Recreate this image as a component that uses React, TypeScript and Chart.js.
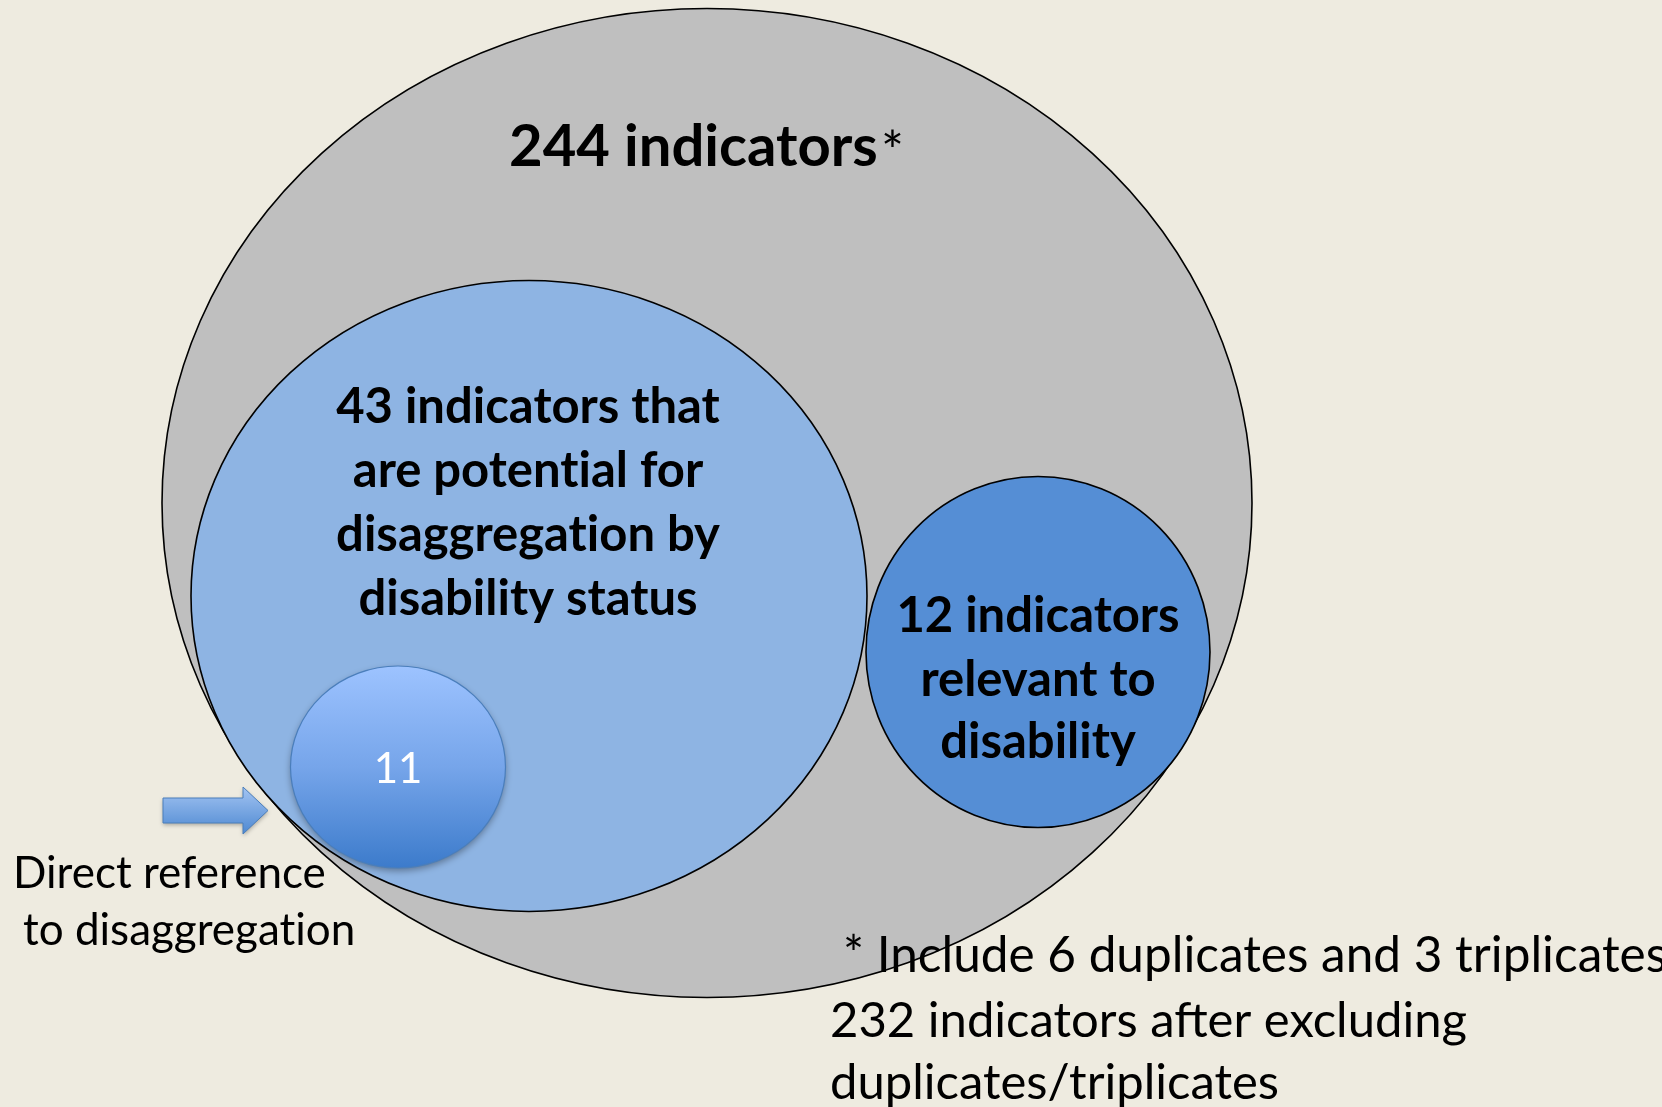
import { useEffect, useRef } from 'react';
import { Chart, registerables } from 'chart.js';

Chart.register(...registerables);

const W = 1662;
const H = 1107;

// Sets of the Euler diagram (outer to inner), geometry in diagram units
const setNames = ['All indicators', 'Potential for disaggregation', 'Relevant to disability', 'Direct reference'];
const setCounts = [244, 43, 12, 11];
const centerX = [707, 529, 1038, 398];
const centerY = [503, 596, 652, 767];
const radiusX = [545, 338, 172, 107.5];
const radiusY = [494.5, 315.5, 175.5, 101];

// Text content
const outerLabel = `${setCounts[0]} indicators`;
const mediumLines = [`${setCounts[1]} indicators that`, 'are potential for', 'disaggregation by', 'disability status'];
const rightLines = [`${setCounts[2]} indicators`, 'relevant to', 'disability'];
const smallLabel = `${setCounts[3]}`;
const arrowLines = ['Direct reference', 'to disaggregation'];
const noteLines = ['* Include 6 duplicates and 3 triplicates', '232 indicators after excluding', 'duplicates/triplicates'];

const FONT = 'Lato, "Open Sans", "DejaVu Sans", sans-serif';

// avoid typographic ligatures (e.g. "ti") that the reference does not use
const noLig = (t: string) => t.replace(/t(?=[ifl])/g, 't\u200C').replace(/f(?=[ifl])/g, 'f\u200C');

const vennPlugin = {
  id: 'venn',
  beforeDraw(chart: any) {
    const { ctx } = chart;
    ctx.save();
    ctx.fillStyle = '#EEEBE0';
    ctx.fillRect(0, 0, chart.width, chart.height);
    ctx.restore();
  },
  beforeDatasetsDraw(chart: any) {
    const { ctx } = chart;
    const xs = chart.scales.x;
    const ys = chart.scales.y;
    const px = (v: number) => xs.getPixelForValue(v);
    const py = (v: number) => ys.getPixelForValue(v);
    const ell = (i: number) => ({
      cx: px(centerX[i]),
      cy: py(centerY[i]),
      rx: Math.abs(px(centerX[i] + radiusX[i]) - px(centerX[i])),
      ry: Math.abs(py(centerY[i] + radiusY[i]) - py(centerY[i])),
    });
    const fills = ['#BFBFBF', '#8EB4E3', '#558ED5'];
    for (let i = 0; i < 3; i++) {
      const e = ell(i);
      ctx.save();
      ctx.beginPath();
      ctx.ellipse(e.cx, e.cy, e.rx, e.ry, 0, 0, Math.PI * 2);
      ctx.fillStyle = fills[i];
      ctx.fill();
      ctx.lineWidth = 1.6;
      ctx.strokeStyle = '#000000';
      ctx.stroke();
      ctx.restore();
    }
    // small gradient ellipse
    const s = ell(3);
    ctx.save();
    const g = ctx.createLinearGradient(0, s.cy - s.ry, 0, s.cy + s.ry);
    g.addColorStop(0, '#9DC3FF');
    g.addColorStop(0.5, '#76A5EA');
    g.addColorStop(1, '#3C7BCB');
    ctx.beginPath();
    ctx.ellipse(s.cx, s.cy, s.rx, s.ry, 0, 0, Math.PI * 2);
    ctx.shadowColor = 'rgba(0,0,0,0.35)';
    ctx.shadowBlur = 7;
    ctx.shadowOffsetY = 3;
    ctx.fillStyle = g;
    ctx.fill();
    ctx.shadowColor = 'rgba(0,0,0,0)';
    ctx.lineWidth = 1.2;
    ctx.strokeStyle = '#4A7EBB';
    ctx.stroke();
    ctx.restore();

    // arrow pointing at small set
    const ax0 = px(163), ax1 = px(243), tip = px(268);
    const sy0 = py(798), sy1 = py(823), hy0 = py(787), hy1 = py(834), ty = py(810.5);
    ctx.save();
    const ag = ctx.createLinearGradient(0, hy0, 0, hy1);
    ag.addColorStop(0, '#A3C4F2');
    ag.addColorStop(1, '#4E89D2');
    ctx.beginPath();
    ctx.moveTo(ax0, sy0);
    ctx.lineTo(ax1, sy0);
    ctx.lineTo(ax1, hy0);
    ctx.lineTo(tip, ty);
    ctx.lineTo(ax1, hy1);
    ctx.lineTo(ax1, sy1);
    ctx.lineTo(ax0, sy1);
    ctx.closePath();
    ctx.shadowColor = 'rgba(0,0,0,0.3)';
    ctx.shadowBlur = 4;
    ctx.shadowOffsetY = 2;
    ctx.fillStyle = ag;
    ctx.fill();
    ctx.shadowColor = 'rgba(0,0,0,0)';
    ctx.lineWidth = 1;
    ctx.strokeStyle = '#4A7EBB';
    ctx.stroke();
    ctx.restore();
  },
  afterDatasetsDraw(chart: any) {
    const { ctx } = chart;
    const xs = chart.scales.x;
    const ys = chart.scales.y;
    const px = (v: number) => xs.getPixelForValue(v);
    const py = (v: number) => ys.getPixelForValue(v);
    const txt = (t: string, x: number, y: number) => ctx.fillText(noLig(t), px(x), py(y));
    ctx.save();
    ctx.textBaseline = 'alphabetic';

    // outer title
    ctx.fillStyle = '#000';
    ctx.font = `bold 58px ${FONT}`;
    ctx.textAlign = 'left';
    txt(outerLabel, 509, 166);
    ctx.font = `54px ${FONT}`;
    txt('*', 881, 170);

    // medium set
    ctx.font = `bold 49px ${FONT}`;
    ctx.textAlign = 'center';
    const mb = [423, 487, 551, 615];
    mediumLines.forEach((t, i) => txt(t, 528, mb[i]));

    // right set
    const rb = [632, 696, 758];
    rightLines.forEach((t, i) => txt(t, 1038, rb[i]));

    // small set
    ctx.fillStyle = '#FFFFFF';
    ctx.font = `42px ${FONT}`;
    txt(smallLabel, 398, 783);

    // arrow label
    ctx.fillStyle = '#000';
    ctx.font = `44px ${FONT}`;
    ctx.textAlign = 'left';
    txt(arrowLines[0], 13, 888);
    txt(arrowLines[1], 23, 945);

    // footnote
    ctx.font = `49.5px ${FONT}`;
    txt(noteLines[0], 843, 972);
    ctx.font = `49px ${FONT}`;
    txt(noteLines[1], 830, 1037);
    txt(noteLines[2], 830, 1099);
    ctx.restore();
  },
};

export default function App() {
  const ref = useRef<HTMLCanvasElement>(null);
  useEffect(() => {
    document.body.style.margin = '0';
    document.body.style.background = '#EEEBE0';
    const canvas = ref.current!;
    const chart = new Chart(canvas, {
      type: 'scatter',
      data: {
        datasets: setNames.map((name, i) => ({
          label: name,
          data: [{ x: centerX[i], y: centerY[i] }],
          pointRadius: 0,
          pointHoverRadius: 0,
        })),
      },
      options: {
        animation: false,
        responsive: false,
        maintainAspectRatio: false,
        devicePixelRatio: 1,
        layout: { padding: 0 },
        events: [],
        plugins: { legend: { display: false }, tooltip: { enabled: false } },
        scales: {
          x: { type: 'linear', min: 0, max: W, display: false },
          y: { type: 'linear', min: 0, max: H, reverse: true, display: false },
        },
      },
      plugins: [vennPlugin],
    });
    return () => chart.destroy();
  }, []);
  return <canvas ref={ref} width={W} height={H} style={{ display: 'block', width: W, height: H }} />;
}
